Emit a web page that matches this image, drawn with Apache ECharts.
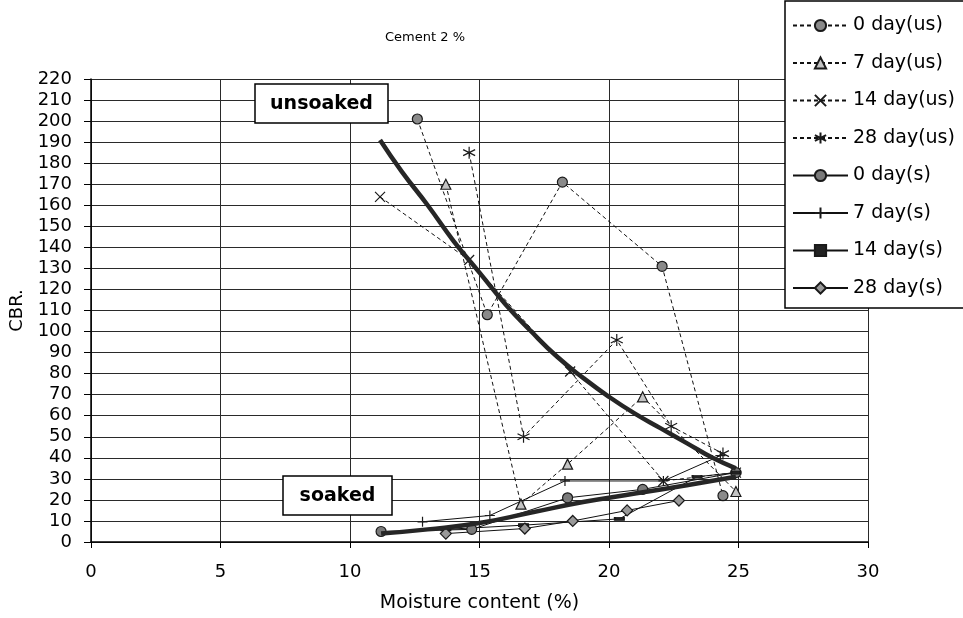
<!DOCTYPE html>
<html><head><meta charset="utf-8">
<script src="https://cdn.jsdelivr.net/npm/echarts@6/dist/echarts.min.js"></script>
<style>html,body{margin:0;padding:0;background:#fff}#c{width:963px;height:618px}</style>
</head><body><div id="c"></div>
<script>
// ---- data ----
const xTicks = [0, 5, 10, 15, 20, 25, 30];
const yTicks = [0, 220, 10];

const us0X = [12.6, 15.3, 18.2, 22.05, 24.4];
const us0Y = [201, 108, 171, 131, 22];
const us7X = [13.7, 16.6, 18.4, 21.3, 24.9];
const us7Y = [170, 18, 37, 69, 24];
const us14X = [11.16, 14.6, 18.5, 22.1, 24.9];
const us14Y = [164, 134, 81, 29, 33];
const us28X = [14.6, 16.7, 20.3, 22.4, 24.4];
const us28Y = [185, 50, 96, 55, 42];

const s0X = [11.2, 14.7, 18.4, 21.3, 24.9];
const s0Y = [5, 6, 21, 25, 33];
const s7X = [12.8, 15.4, 18.3, 22.1, 24.3];
const s7Y = [9.6, 12.6, 29, 29, 41];
const s14X = [13.7, 16.7, 20.4, 23.4, 24.9];
const s14Y = [6, 8, 11, 31, 33];
const s28X = [13.7, 16.75, 18.6, 20.7, 22.7];
const s28Y = [4, 6.4, 10, 15, 19.7];

const trendUsX = [11.16, 12, 13, 14, 15, 16, 17, 18, 19, 20, 21, 22, 23, 24, 24.9];
const trendUsY = [191, 176, 160, 143, 128, 113, 100, 88, 78, 69, 61, 54, 47, 40, 35];
const trendSX = [11.2, 13, 15, 17, 19, 21, 23, 24.9];
const trendSY = [4, 6, 9, 14, 19, 23, 27, 31];

const names = ['0 day(us)', '7 day(us)', '14 day(us)', '28 day(us)', '0 day(s)', '7 day(s)', '14 day(s)', '28 day(s)'];

const pair = (xs, ys) => xs.map((x, i) => [x, ys[i]]);
const FONT = 'DejaVu Sans';

function mk(name, xs, ys, dashed, symbol, size, fill) {
  return {
    name, type: 'line', data: pair(xs, ys), symbol, symbolSize: size,
    lineStyle: { color: '#111', width: 1, type: dashed ? [4, 3] : 'solid' },
    itemStyle: { color: fill, borderColor: '#1a1a1a', borderWidth: 1.2 },
    z: 3
  };
}

const series = [
  mk(names[0], us0X, us0Y, true, 'circle', 10, '#8a8a8a'),
  mk(names[1], us7X, us7Y, true, 'triangle', 10, '#c4c4c4'),
  mk(names[2], us14X, us14Y, true, 'path://M0,0L10,10M10,0L0,10', 10, '#222'),
  mk(names[3], us28X, us28Y, true, 'path://M5,0L5,10M0,2.5L10,7.5M0,7.5L10,2.5', 12, '#222'),
  mk(names[4], s0X, s0Y, false, 'circle', 10, '#7a7a7a'),
  mk(names[5], s7X, s7Y, false, 'path://M5,0L5,10M0,5L10,5', 10, '#222'),
  mk(names[6], s14X, s14Y, false, 'rect', [9, 3], '#222'),
  mk(names[7], s28X, s28Y, false, 'diamond', 11, '#999'),
  { name: 'trendUS', type: 'line', data: pair(trendUsX, trendUsY), smooth: true, symbol: 'none',
    lineStyle: { color: '#262626', width: 4.5 }, z: 4 },
  { name: 'trendS', type: 'line', data: pair(trendSX, trendSY), smooth: true, symbol: 'none',
    lineStyle: { color: '#262626', width: 4.5 }, z: 4 }
];

const chart = echarts.init(document.getElementById('c'));
chart.setOption({
  animation: false,
  backgroundColor: '#fff',
  grid: { left: 91, right: 95, top: 79, bottom: 75, show: false },
  xAxis: {
    type: 'value', min: xTicks[0], max: xTicks[xTicks.length - 1], interval: 5,
    name: 'Moisture content (%)', nameLocation: 'middle', nameGap: 52,
    nameTextStyle: { fontFamily: FONT, fontSize: 19, color: '#000' },
    axisLine: { show: true, onZero: false, lineStyle: { color: '#000', width: 1.5 } },
    axisTick: { show: true, length: 6, lineStyle: { color: '#000' } },
    axisLabel: { fontFamily: FONT, fontSize: 18, color: '#000', margin: 21 },
    splitLine: { show: true, lineStyle: { color: '#2a2a2a', width: 1 } }
  },
  yAxis: {
    type: 'value', min: yTicks[0], max: yTicks[1], interval: yTicks[2],
    name: 'CBR.', nameLocation: 'middle', nameGap: 62, nameRotate: 90,
    nameTextStyle: { fontFamily: FONT, fontSize: 18, color: '#000' },
    axisLine: { show: true, onZero: false, lineStyle: { color: '#000', width: 1.5 } },
    axisTick: { show: true, length: 7, lineStyle: { color: '#000' } },
    axisLabel: { fontFamily: FONT, fontSize: 18, color: '#000', margin: 19 },
    splitLine: { show: true, lineStyle: { color: '#2a2a2a', width: 1 } }
  },
  legend: {
    data: names, orient: 'vertical', left: 792, top: 16, padding: 0,
    itemWidth: 55, itemHeight: 14, itemGap: 18.5, z: 60,
    textStyle: { fontFamily: FONT, fontSize: 19, color: '#000' }
  },
  graphic: [
    { type: 'rect', z: 50, shape: { x: 785, y: 1, width: 184, height: 307 },
      style: { fill: '#fff', stroke: '#000', lineWidth: 1.5 } },
    { type: 'text', z: 50, style: { text: 'Cement 2 %', x: 425, y: 38, align: 'center', verticalAlign: 'middle',
      font: '13px "DejaVu Sans"', fill: '#000' } },
    { type: 'rect', z: 50, shape: { x: 255, y: 84, width: 133, height: 39 },
      style: { fill: '#fff', stroke: '#000', lineWidth: 1.5 } },
    { type: 'text', z: 51, style: { text: 'unsoaked', x: 321.5, y: 104, align: 'center', verticalAlign: 'middle',
      font: 'bold 19px "DejaVu Sans"', fill: '#000' } },
    { type: 'rect', z: 50, shape: { x: 283, y: 476, width: 109, height: 39 },
      style: { fill: '#fff', stroke: '#000', lineWidth: 1.5 } },
    { type: 'text', z: 51, style: { text: 'soaked', x: 337.5, y: 496, align: 'center', verticalAlign: 'middle',
      font: 'bold 19px "DejaVu Sans"', fill: '#000' } }
  ],
  series
});
</script>
</body></html>
